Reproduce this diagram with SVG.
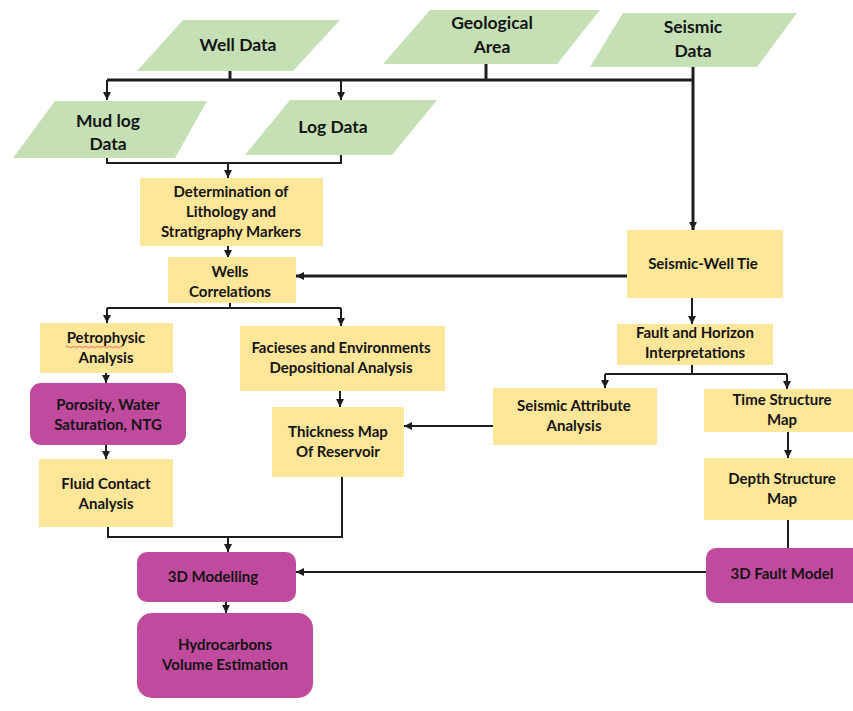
<svg xmlns="http://www.w3.org/2000/svg" width="853" height="711" viewBox="0 0 853 711">
<style>
.g{fill:#C5E0B4}
.y{fill:#FFE699}
.m{fill:#C04A9E}
text{font-family:Lato,"Liberation Sans",sans-serif;font-weight:bold;fill:#141414;text-anchor:middle}
.t16{font-size:17.5px}
.t14{font-size:15px}
.c{fill:none;stroke:#1e1e1e;stroke-width:2}
.b{stroke-width:3}
</style>
<defs>
<marker id="ah" markerUnits="userSpaceOnUse" markerWidth="9" markerHeight="8" refX="8" refY="4" orient="auto">
<path d="M0,0 L8,4 L0,8 z" fill="#1e1e1e"/>
</marker>
</defs>
<rect width="853" height="711" fill="#fff"/>

<g id="connectors">
<path class="c b" d="M230,71 V80"/>
<path class="c b" d="M486,64 V80"/>
<path class="c b" d="M107,80 H693"/>
<path class="c" d="M107,80 V100" marker-end="url(#ah)"/>
<path class="c" d="M341,80 V100" marker-end="url(#ah)"/>
<path class="c b" d="M693,67 V230" marker-end="url(#ah)"/>
<path class="c" d="M107,158 V163 H341 V155"/>
<path class="c" d="M228,163 V178" marker-end="url(#ah)"/>
<path class="c" d="M228,246 V258" marker-end="url(#ah)"/>
<path class="c b" d="M627,276 H296" marker-end="url(#ah)"/>
<path class="c" d="M692,298 V324" marker-end="url(#ah)"/>
<path class="c" d="M230,303 V308"/>
<path class="c" d="M107,308 H341"/>
<path class="c" d="M107,308 V323" marker-end="url(#ah)"/>
<path class="c" d="M341,308 V326" marker-end="url(#ah)"/>
<path class="c" d="M106,373 V383" marker-end="url(#ah)"/>
<path class="c" d="M106,445 V459" marker-end="url(#ah)"/>
<path class="c" d="M340,391 V407" marker-end="url(#ah)"/>
<path class="c" d="M692,365 V374"/>
<path class="c" d="M605,374 H787"/>
<path class="c" d="M605,374 V388" marker-end="url(#ah)"/>
<path class="c" d="M787,374 V389" marker-end="url(#ah)"/>
<path class="c" d="M493,426 H404" marker-end="url(#ah)"/>
<path class="c" d="M788,432 V458" marker-end="url(#ah)"/>
<path class="c" d="M788,520 V548"/>
<path class="c" d="M108,527 V537 H342 V477"/>
<path class="c" d="M228,537 V552" marker-end="url(#ah)"/>
<path class="c" d="M706,572 H296" marker-end="url(#ah)"/>
<path class="c" d="M226,602 V613" marker-end="url(#ah)"/>
</g>

<g id="well-data">
<polygon class="g" points="183,20 340,20 293,71 137,71"/>
<text class="t16" x="238" y="51">Well Data</text>
</g>
<g id="geological-area">
<polygon class="g" points="430,10 600,10 557,64 383,64"/>
<text class="t16" x="492" y="29">Geological</text>
<text class="t16" x="492" y="53">Area</text>
</g>
<g id="seismic-data">
<polygon class="g" points="623,13 797,13 757,67 590,67"/>
<text class="t16" x="693" y="33">Seismic</text>
<text class="t16" x="693" y="57">Data</text>
</g>
<g id="mud-log-data">
<polygon class="g" points="55,101 207,101 175,158 13,158"/>
<text class="t16" x="108" y="127">Mud log</text>
<text class="t16" x="108" y="150">Data</text>
</g>
<g id="log-data">
<polygon class="g" points="290,100 437,100 392,155 245,155"/>
<text class="t16" x="333" y="133">Log Data</text>
</g>
<g id="determination">
<rect class="y" x="140" y="178" width="183" height="68"/>
<text class="t14" x="231" y="197">Determination of</text>
<text class="t14" x="231" y="217">Lithology and</text>
<text class="t14" x="231" y="237">Stratigraphy Markers</text>
</g>
<g id="wells-correlations">
<rect class="y" x="168" y="257" width="128" height="46"/>
<text class="t14" x="230" y="277">Wells</text>
<text class="t14" x="230" y="297">Correlations</text>
</g>
<g id="seismic-well-tie">
<rect class="y" x="627" y="230" width="156" height="68"/>
<text class="t14" x="703" y="269">Seismic-Well Tie</text>
</g>
<g id="fault-horizon">
<rect class="y" x="617" y="324" width="156" height="41"/>
<text class="t14" x="695" y="338">Fault and Horizon</text>
<text class="t14" x="695" y="358">Interpretations</text>
</g>
<g id="petrophysic">
<rect class="y" x="40" y="323" width="133" height="50"/>
<text class="t14" x="106" y="343">Petrophysic</text>
<path d="M66,347 q1.5,-1.5 3,0 t3,0 t3,0 t3,0 t3,0 t3,0 t3,0 t3,0 t3,0 t3,0 t3,0 t3,0 t3,0 t3,0 t3,0 t3,0 t3,0 t3,0 t3,0" fill="none" stroke="#e04040" stroke-width="0.8"/>
<text class="t14" x="106" y="363">Analysis</text>
</g>
<g id="facieses">
<rect class="y" x="240" y="326" width="205" height="65"/>
<text class="t14" x="341" y="353">Facieses and Environments</text>
<text class="t14" x="341" y="373">Depositional Analysis</text>
</g>
<g id="porosity">
<rect class="m" x="30" y="383" width="156" height="62" rx="11"/>
<text class="t14" x="108" y="410">Porosity, Water</text>
<text class="t14" x="108" y="430">Saturation, NTG</text>
</g>
<g id="thickness-map">
<rect class="y" x="272" y="407" width="132" height="70"/>
<text class="t14" x="338" y="437">Thickness Map</text>
<text class="t14" x="338" y="457">Of Reservoir</text>
</g>
<g id="seismic-attribute">
<rect class="y" x="493" y="388" width="164" height="57"/>
<text class="t14" x="574" y="411">Seismic Attribute</text>
<text class="t14" x="574" y="431">Analysis</text>
</g>
<g id="time-structure">
<rect class="y" x="704" y="389" width="149" height="43"/>
<text class="t14" x="782" y="405">Time Structure</text>
<text class="t14" x="782" y="425">Map</text>
</g>
<g id="depth-structure">
<rect class="y" x="704" y="458" width="149" height="62"/>
<text class="t14" x="782" y="484">Depth Structure</text>
<text class="t14" x="782" y="504">Map</text>
</g>
<g id="fluid-contact">
<rect class="y" x="39" y="459" width="134" height="68"/>
<text class="t14" x="106" y="489">Fluid Contact</text>
<text class="t14" x="106" y="509">Analysis</text>
</g>
<g id="fault-model">
<rect class="m" x="706" y="548" width="160" height="55" rx="10"/>
<text class="t14" x="782" y="579">3D Fault Model</text>
</g>
<g id="modelling">
<rect class="m" x="137" y="552" width="159" height="50" rx="10"/>
<text class="t14" x="213" y="582">3D Modelling</text>
</g>
<g id="hydrocarbons">
<rect class="m" x="137" y="613" width="176" height="85" rx="15"/>
<text class="t14" x="225" y="650">Hydrocarbons</text>
<text class="t14" x="225" y="670">Volume Estimation</text>
</g>
</svg>
